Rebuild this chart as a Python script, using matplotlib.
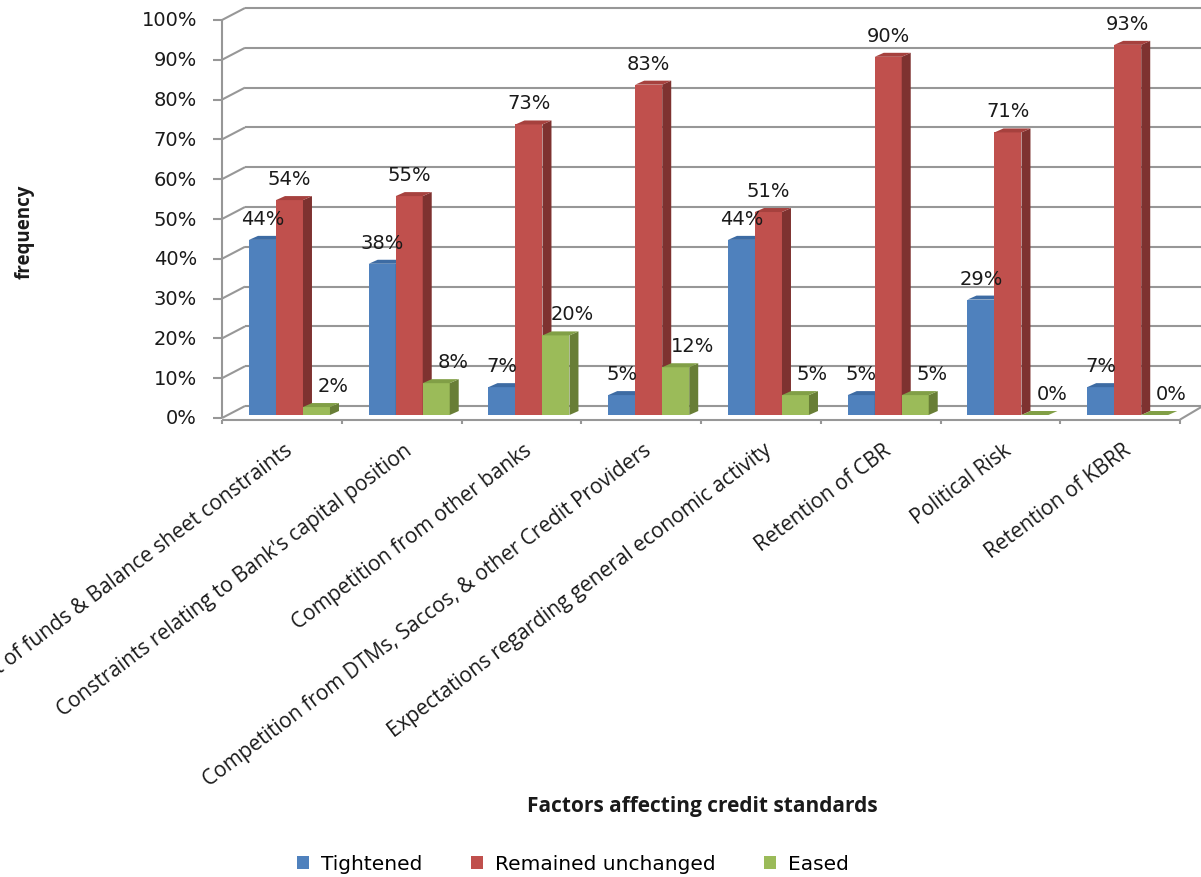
import matplotlib
matplotlib.use("Agg")
import matplotlib.pyplot as plt
from matplotlib.patches import Polygon, Patch

# ---- data -------------------------------------------------------------
categories = [
    "Cost of funds & Balance sheet constraints",
    "Constraints relating to Bank's capital position",
    "Competition from other banks",
    "Competition from DTMs, Saccos, & other Credit Providers",
    "Expectations regarding general economic activity",
    "Retention of CBR",
    "Political Risk",
    "Retention of KBRR",
]
series_names = ["Tightened", "Remained unchanged", "Eased"]
tightened = [44, 38, 7, 5, 44, 5, 29, 7]
unchanged = [54, 55, 73, 83, 51, 90, 71, 93]
eased = [2, 8, 20, 12, 5, 5, 0, 0]
y_ticks = list(range(0, 101, 10))

series = [tightened, unchanged, eased]
front_colors = ["#4F81BD", "#C0504D", "#9BBB59"]
top_colors = ["#3D6BA3", "#A6413E", "#819F46"]
side_colors = ["#365D8C", "#7E3230", "#687E36"]
grid_color = "#979797"
text_color = "#1a1a1a"

# ---- figure / pseudo-3D geometry -------------------------------------
W, H = 1201, 878
fig = plt.figure(figsize=(W / 100, H / 100), dpi=100)

PX_CAT = 119.75   # pixels per category slot
PX_PCT = 3.98     # pixels per percentage point
AX_LEFT, AX_BASE = 222, 419

ax = fig.add_axes([AX_LEFT / W, (H - AX_BASE) / H, (W - AX_LEFT) / W, AX_BASE / H])
ax.set_xlim(0, (W - AX_LEFT) / PX_CAT)
ax.set_ylim(0, AX_BASE / PX_PCT)
ax.axis("off")

n = len(categories)
WX, WY = 23 / PX_CAT, 12 / PX_PCT        # depth of the back wall
BX, BY = 7.6 / PX_CAT, 3 / PX_PCT        # depth of the bar row
DX, DY = 9 / PX_CAT, 4 / PX_PCT          # bar thickness (side / top)
BAR_W = 27 / PX_CAT

line_kw = dict(color=grid_color, lw=1.5, clip_on=False, solid_capstyle="butt")

# walls, gridlines and ticks
for v in y_ticks:
    ax.plot([WX, n + WX], [v + WY, v + WY], zorder=1, **line_kw)
    ax.plot([0, WX], [v, v + WY], zorder=1, **line_kw)
    ax.plot([-9 / PX_CAT, 0], [v, v], zorder=1, **line_kw)
    ax.text(-25 / PX_CAT, v, f"{v}%", ha="right", va="center",
            fontsize=14, family="DejaVu Sans", color=text_color)
ax.plot([0, 0], [0, 100], zorder=1, **line_kw)
ax.plot([0, n], [-0.4, -0.4], zorder=1, **line_kw)
ax.plot([n, n + WX], [-0.4, WY], zorder=1, **line_kw)
for k in range(n + 1):
    ax.plot([k, k], [-0.4, -6 / PX_PCT], zorder=1, **line_kw)

# bars
for i in range(n):
    for j, vals in enumerate(series):
        v = vals[i]
        x0 = i + 0.5 + BX - 1.5 * BAR_W + j * BAR_W
        y0 = BY
        y1 = BY + v
        z = 3 + i * 0.01 + j * 0.001
        if v > 0:
            # front face
            ax.add_patch(Polygon([(x0, y0), (x0 + BAR_W, y0), (x0 + BAR_W, y1), (x0, y1)],
                                 closed=True, facecolor=front_colors[j], edgecolor="none",
                                 zorder=z, clip_on=False))
            # side face
            ax.add_patch(Polygon([(x0 + BAR_W, y0), (x0 + BAR_W + DX, y0 + DY),
                                  (x0 + BAR_W + DX, y1 + DY), (x0 + BAR_W, y1)],
                                 closed=True, facecolor=side_colors[j], edgecolor="none",
                                 zorder=z, clip_on=False))
        # top face
        ax.add_patch(Polygon([(x0, y1), (x0 + BAR_W, y1), (x0 + BAR_W + DX, y1 + DY),
                              (x0 + DX, y1 + DY)],
                             closed=True, facecolor=top_colors[j], edgecolor="none",
                             zorder=z, clip_on=False))

# value labels
label_dx = [0.0, 0.0, 0.14]
for i in range(n):
    for j, vals in enumerate(series):
        v = vals[i]
        x0 = i + 0.5 + BX - 1.5 * BAR_W + j * BAR_W
        ax.text(x0 + BAR_W / 2 + label_dx[j], BY + v + 5.4, f"{v}%",
                ha="center", va="center", fontsize=14, family="DejaVu Sans",
                color=text_color, zorder=10, clip_on=False)

# category labels
for i, name in enumerate(categories):
    ax.text(i + 0.5 + 2 / PX_CAT, -21 / PX_PCT, name, rotation=37,
            ha="right", va="top", rotation_mode="anchor",
            fontsize=15, family="Open Sans", color=text_color, clip_on=False)

# axis titles
fig.text(702 / W, 1 - 807 / H, "Factors affecting credit standards",
         ha="center", va="center", fontsize=15, fontweight="bold", family="Open Sans",
         color=text_color)
fig.text(25 / W, 1 - 232 / H, "frequency", rotation=90,
         ha="center", va="center", fontsize=13.5, fontweight="bold", family="Open Sans",
         color=text_color)

# legend
handles = [Patch(facecolor=c, edgecolor="none") for c in front_colors]
fig.legend(handles, series_names, loc="center", bbox_to_anchor=(573 / W, 1 - 865 / H),
           ncol=3, frameon=False, prop={"family": "DejaVu Sans", "size": 14.5},
           handlelength=0.6, handleheight=0.6, handletextpad=0.6, columnspacing=2.4)

fig.savefig("out.png", dpi=100)
